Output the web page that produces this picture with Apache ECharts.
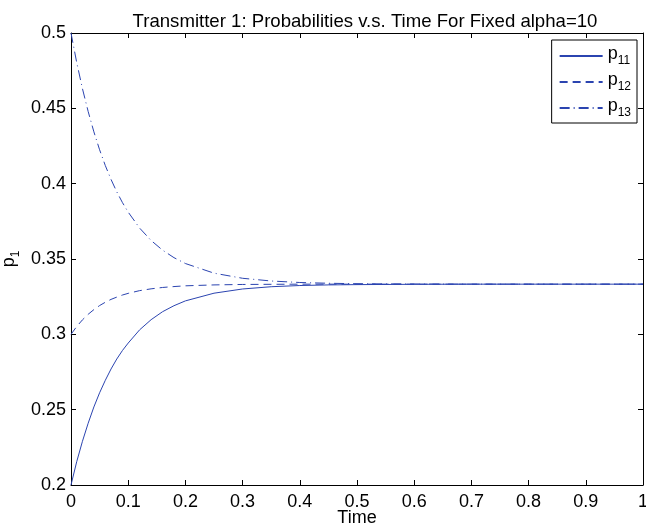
<!DOCTYPE html>
<html>
	<head>
		<meta charset="utf-8">
		<title>Transmitter 1</title>
		<style>
			html, body { margin: 0; padding: 0; background: #fff; }
			#chart { width: 646px; height: 529px; }
		</style>
	</head>
	<body>
		<div id="chart"></div>
		<script src="https://cdn.jsdelivr.net/npm/echarts@6/dist/echarts.min.js"></script>
		<script>
		var times = [0, 0.01, 0.02, 0.03, 0.04, 0.05, 0.06, 0.07, 0.08, 0.09, 0.1,
			0.12, 0.14, 0.16, 0.18, 0.2, 0.25, 0.3, 0.35, 0.4, 0.45, 0.5, 0.6, 0.7, 0.8, 0.9, 1];
		var p11 = [0.2000, 0.2155, 0.2290, 0.2410, 0.2518, 0.2612, 0.2695, 0.2770, 0.2836, 0.2893, 0.2942,
			0.3030, 0.3097, 0.3150, 0.3190, 0.3222, 0.3273, 0.3301, 0.3316, 0.3324, 0.3328, 0.3330, 0.3332, 0.3333, 0.3333, 0.3333, 0.3333];
		var p12 = [0.3000, 0.3052, 0.3096, 0.3133, 0.3164, 0.3191, 0.3213, 0.3232, 0.3247, 0.3261, 0.3272,
			0.3290, 0.3302, 0.3311, 0.3317, 0.3322, 0.3328, 0.3331, 0.3332, 0.3333, 0.3333, 0.3333, 0.3333, 0.3333, 0.3333, 0.3333, 0.3333];
		var p13 = [0.5000, 0.4804, 0.4631, 0.4479, 0.4344, 0.4225, 0.4120, 0.4028, 0.3946, 0.3874, 0.3811,
			0.3705, 0.3623, 0.3559, 0.3509, 0.3470, 0.3406, 0.3372, 0.3354, 0.3344, 0.3339, 0.3336, 0.3334, 0.3333, 0.3333, 0.3333, 0.3333];
		var names = ['p11', 'p12', 'p13'];
		var subs = {p11: '11', p12: '12', p13: '13'};

		var blue = '#2b44b0';
		var font = 'Liberation Sans, Arial, sans-serif';

		function pairs(ys) {
			var out = [];
			for (var i = 0; i < times.length; i++) out.push([times[i], ys[i]]);
			return out;
		}

		function line(name, ys, dash) {
			return {
				name: name,
				type: 'line',
				data: pairs(ys),
				symbol: 'none',
				color: blue,
				lineStyle: {color: blue, width: 1, type: dash},
				xAxisIndex: 0,
				yAxisIndex: 0
			};
		}

		var axisLine = {show: true, onZero: false, lineStyle: {color: '#000', width: 1}};
		var tick = {show: true, inside: true, length: 5, lineStyle: {color: '#000', width: 1}};
		var subRich = {
			p: {fontSize: 18, fontFamily: font, color: '#000', verticalAlign: 'bottom', padding: [0, 0, 4, 0]},
			s: {fontSize: 12, fontFamily: font, color: '#000', verticalAlign: 'bottom'}
		};

		var chart = echarts.init(document.getElementById('chart'));
		chart.setOption({
			animation: false,
			backgroundColor: '#fff',
			textStyle: {fontFamily: font},
			title: {
				text: 'Transmitter 1: Probabilities v.s. Time For Fixed alpha=10',
				left: 360,
				top: 7,
				textAlign: 'center',
				textStyle: {fontFamily: font, fontSize: 18.6, fontWeight: 'normal', color: '#000'}
			},
			legend: {
				data: names,
				orient: 'vertical',
				right: 9,
				top: 40,
				padding: [5, 6, 4, 7],
				itemWidth: 43,
				itemHeight: 12,
				itemGap: 4,
				itemStyle: {opacity: 0},
				backgroundColor: '#fff',
				borderColor: '#000',
				borderWidth: 1,
				borderRadius: 0,
				formatter: function (n) { return '{p|p}{s|' + subs[n] + '}'; },
				textStyle: {fontFamily: font, color: '#000', rich: subRich}
			},
			grid: {left: 71, right: 3, top: 33, bottom: 44, outerBoundsMode: 'none', containLabel: false},
			xAxis: [{
				type: 'value', position: 'bottom', min: 0, max: 1, interval: 0.1,
				axisLine: axisLine, axisTick: tick, splitLine: {show: false},
				axisLabel: {fontSize: 18, color: '#000', margin: 8, fontFamily: font},
				name: 'Time', nameLocation: 'middle', nameGap: 24, nameMoveOverlap: false,
				nameTextStyle: {fontSize: 18, color: '#000', fontFamily: font}
			}, {
				type: 'value', position: 'top', min: 0, max: 1, interval: 0.1,
				axisLine: axisLine, axisTick: tick, splitLine: {show: false},
				axisLabel: {show: false}
			}],
			yAxis: [{
				type: 'value', position: 'left', min: 0.2, max: 0.5, interval: 0.05,
				axisLine: axisLine, axisTick: tick, splitLine: {show: false},
				axisLabel: {fontSize: 18, color: '#000', margin: 5, fontFamily: font},
				name: '{p|p}{s|1}', nameLocation: 'middle', nameGap: 49, nameMoveOverlap: false,
				nameTextStyle: {color: '#000', fontFamily: font, rich: subRich}
			}, {
				type: 'value', position: 'right', min: 0.2, max: 0.5, interval: 0.05,
				axisLine: axisLine, axisTick: tick, splitLine: {show: false},
				axisLabel: {show: false}
			}],
			series: [
				line('p11', p11, 'solid'),
				line('p12', p12, [8, 5]),
				line('p13', p13, [10, 4, 1, 4])
			]
		});
		</script>
	</body>
</html>
